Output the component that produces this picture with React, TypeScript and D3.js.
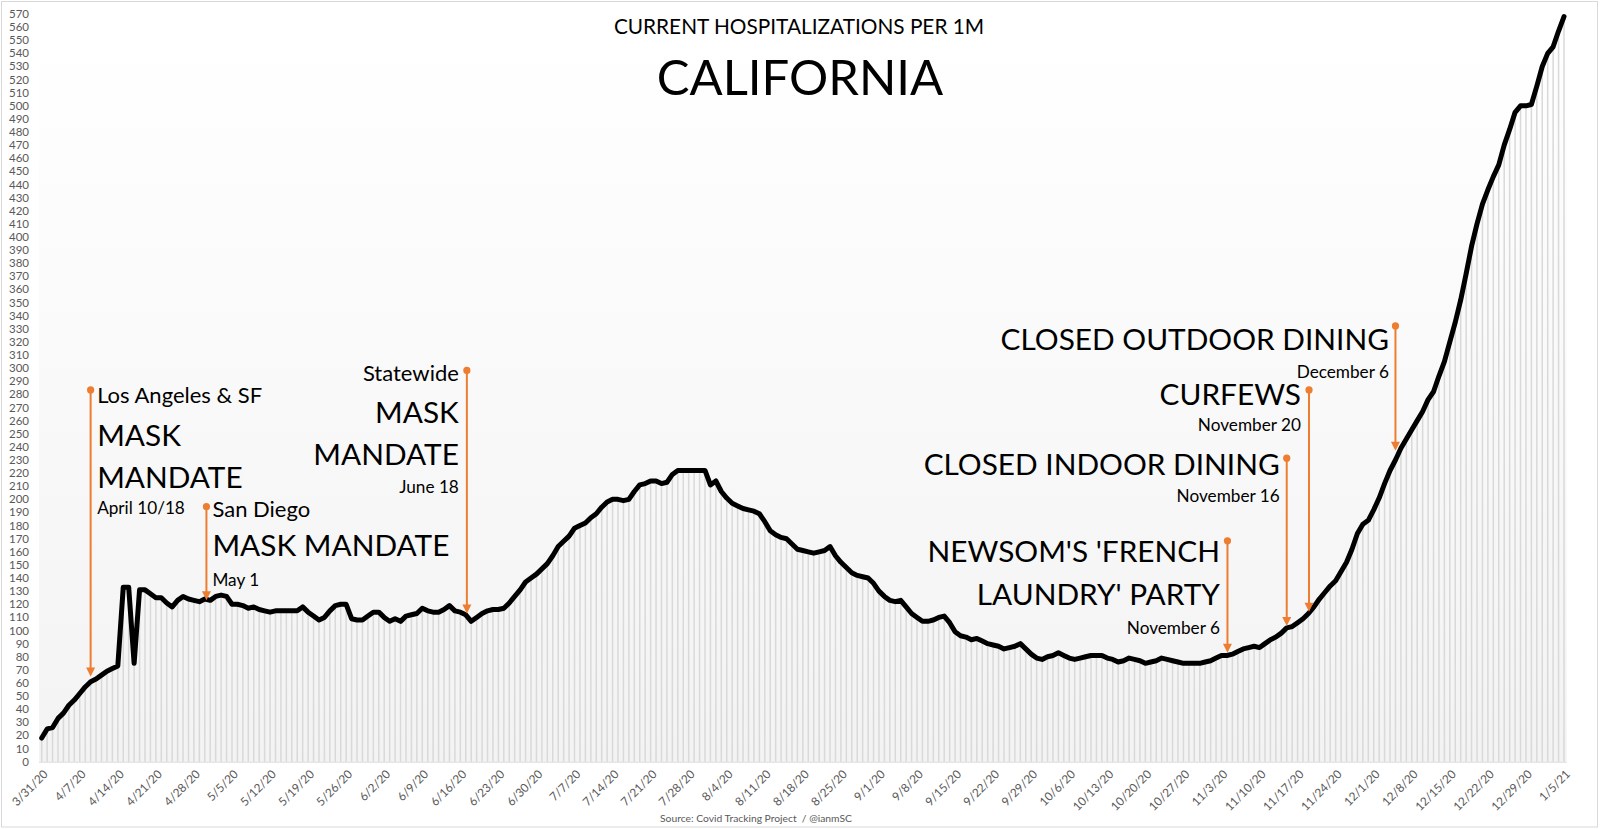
import React from 'react';
import * as d3 from 'd3';

// Daily current hospitalizations per 1M, California, 3/31/20 .. 1/5/21
const values: number[] = [
  18, 25, 26, 33, 37, 43, 47, 52, 57, 61,
  63, 66, 69, 71, 73, 133, 133, 75, 131, 131,
  128, 125, 125, 121, 118, 123, 126, 124, 123, 122,
  124, 123, 126, 127, 126, 120, 120, 119, 117, 118,
  116, 115, 114, 115, 115, 115, 115, 115, 118, 114,
  111, 108, 110, 115, 119, 120, 120, 109, 108, 108,
  111, 114, 114, 110, 107, 109, 107, 111, 112, 113,
  117, 115, 114, 114, 116, 119, 115, 114, 112, 107,
  110, 113, 115, 116, 116, 117, 121, 126, 131, 137,
  140, 143, 147, 151, 157, 164, 168, 172, 178, 180,
  182, 186, 189, 194, 198, 200, 200, 199, 200, 206,
  211, 212, 214, 214, 212, 213, 219, 222, 222, 222,
  222, 222, 222, 211, 214, 206, 201, 197, 195, 193,
  192, 191, 189, 183, 176, 173, 171, 170, 166, 162,
  161, 160, 159, 160, 161, 164, 157, 152, 148, 144,
  142, 141, 140, 136, 130, 126, 123, 122, 123, 118,
  113, 110, 107, 107, 108, 110, 111, 106, 99, 96,
  95, 93, 94, 92, 90, 89, 88, 86, 87, 88,
  90, 86, 82, 79, 78, 80, 81, 83, 81, 79,
  78, 79, 80, 81, 81, 81, 79, 78, 76, 77,
  79, 78, 77, 75, 76, 77, 79, 78, 77, 76,
  75, 75, 75, 75, 76, 77, 79, 81, 81, 82,
  84, 86, 87, 88, 87, 90, 93, 95, 98, 102,
  103, 106, 109, 113, 118, 124, 129, 134, 138, 145,
  152, 162, 174, 181, 184, 192, 201, 212, 222, 230,
  239, 246, 253, 260, 267, 276, 282, 294, 305, 320,
  335, 352, 372, 393, 410, 425, 436, 446, 455, 470,
  482, 495, 500, 500, 501, 515, 530, 540, 545, 557,
  568,
];

const tickLabels: string[] = [
  '3/31/20', '4/7/20', '4/14/20', '4/21/20', '4/28/20', '5/5/20', '5/12/20', '5/19/20',
  '5/26/20', '6/2/20', '6/9/20', '6/16/20', '6/23/20', '6/30/20', '7/7/20', '7/14/20',
  '7/21/20', '7/28/20', '8/4/20', '8/11/20', '8/18/20', '8/25/20', '9/1/20', '9/8/20',
  '9/15/20', '9/22/20', '9/29/20', '10/6/20', '10/13/20', '10/20/20', '10/27/20', '11/3/20',
  '11/10/20', '11/17/20', '11/24/20', '12/1/20', '12/8/20', '12/15/20', '12/22/20', '12/29/20',
  '1/5/21',
];

const yTicks: number[] = d3.range(0, 571, 10);

// Annotation arrows: day index, arrow top value, arrow tip value
const annDays: number[] = [9.0, 30.3, 78.2, 218.1, 229.0, 233.1, 249.0];
const annTop: number[] = [283.4, 194.4, 298.3, 168.4, 231.4, 283.4, 332.2];
const annTip: number[] = [65, 123, 113, 83, 103.5, 114.4, 237];

type Line = { t: string; k: 'big' | 'mid' | 'small'; y: number };
const annText: { anchor: 'start' | 'end'; dx: number; lines: Line[] }[] = [
  { anchor: 'start', dx: 6.5, lines: [
    { t: 'Los Angeles & SF', k: 'mid', y: 403 },
    { t: 'MASK', k: 'big', y: 446 },
    { t: 'MANDATE', k: 'big', y: 487.5 },
    { t: 'April 10/18', k: 'small', y: 514 },
  ] },
  { anchor: 'start', dx: 6, lines: [
    { t: 'San Diego', k: 'mid', y: 517 },
    { t: 'MASK MANDATE', k: 'big', y: 556 },
    { t: 'May 1', k: 'small', y: 586 },
  ] },
  { anchor: 'end', dx: -8, lines: [
    { t: 'Statewide', k: 'mid', y: 381 },
    { t: 'MASK', k: 'big', y: 423 },
    { t: 'MANDATE', k: 'big', y: 465 },
    { t: 'June 18', k: 'small', y: 492.5 },
  ] },
  { anchor: 'end', dx: -7.5, lines: [
    { t: "NEWSOM'S 'FRENCH", k: 'big', y: 562 },
    { t: "LAUNDRY' PARTY", k: 'big', y: 605 },
    { t: 'November 6', k: 'small', y: 634 },
  ] },
  { anchor: 'end', dx: -7, lines: [
    { t: 'CLOSED INDOOR DINING', k: 'big', y: 474.5 },
    { t: 'November 16', k: 'small', y: 502 },
  ] },
  { anchor: 'end', dx: -8, lines: [
    { t: 'CURFEWS', k: 'big', y: 405 },
    { t: 'November 20', k: 'small', y: 431 },
  ] },
  { anchor: 'end', dx: -6.5, lines: [
    { t: 'CLOSED OUTDOOR DINING', k: 'big', y: 349.5 },
    { t: 'December 6', k: 'small', y: 377.5 },
  ] },
];

const W = 1600;
const H = 829;
const FONT = 'Lato, "Open Sans", sans-serif';
const ORANGE = '#ED7D31';
const sizes = { big: 29.8, mid: 22, small: 17.2 };

export default function App() {
  const x = d3.scaleLinear().domain([0, values.length - 1]).range([41.7, 1564]);
  const y = d3.scaleLinear().domain([0, 570]).range([761.7, 14]);
  const step = x(1) - x(0);
  const line = d3.line<number>().x((_, i) => x(i)).y((d) => y(d));

  return (
    <svg width={W} height={H} style={{ position: 'absolute', left: 0, top: 0, background: '#fff' }}
      fontFamily={FONT}>
      <defs>
        <linearGradient id="plotbg" x1="0" y1="0" x2="0" y2="1">
          <stop offset="0" stopColor="#ffffff" />
          <stop offset="1" stopColor="#f3f3f3" />
        </linearGradient>
      </defs>
      <rect x={1.5} y={1.5} width={1596} height={825.5} fill="#fff" stroke="#d9d9d9" strokeWidth={1} />
      <rect x={x(0) - step / 2} y={y(570)} width={x(values.length - 1) - x(0) + step} height={y(0) - y(570)}
        fill="url(#plotbg)" />
      {values.map((v, i) => (
        <rect key={i} x={x(i) - 0.75} y={y(v)} width={1.5} height={y(0) - y(v)} fill="#d9d9d9" />
      ))}
      <line x1={x(0) - step / 2} x2={x(values.length - 1) + step / 2} y1={y(0) + 0.5} y2={y(0) + 0.5}
        stroke="#d9d9d9" strokeWidth={1} />
      {yTicks.map((t) => (
        <text key={t} x={29} y={y(t)} dy="0.35em" textAnchor="end" fontSize={11.5} fill="#595959">{t}</text>
      ))}
      {tickLabels.map((lab, k) => (
        <text key={lab} transform={`translate(${x(k * 7) + 4},${772}) rotate(-45)`} textAnchor="end"
          dy="0.35em" fontSize={11.8} fill="#595959">{lab}</text>
      ))}
      <path d={line(values) || ''} fill="none" stroke="#000" strokeWidth={5} strokeLinejoin="round"
        strokeLinecap="round" />
      {annDays.map((d, k) => {
        const ax = x(d);
        const top = y(annTop[k]);
        const tip = y(annTip[k]);
        return (
          <g key={k}>
            <line x1={ax} x2={ax} y1={top} y2={tip - 7} stroke={ORANGE} strokeWidth={2} />
            <circle cx={ax} cy={top} r={3.6} fill={ORANGE} />
            <path d={`M${ax - 4.5},${tip - 9} L${ax + 4.5},${tip - 9} L${ax},${tip} Z`} fill={ORANGE} />
          </g>
        );
      })}
      {annText.map((a, k) => (
        <g key={k}>
          {a.lines.map((l, j) => (
            <text key={j} x={x(annDays[k]) + a.dx} y={l.y} textAnchor={a.anchor} fontSize={sizes[l.k]}
              fill="#000">{l.t}</text>
          ))}
        </g>
      ))}
      <text x={799} y={34} textAnchor="middle" fontSize={20.8} fill="#000">CURRENT HOSPITALIZATIONS PER 1M</text>
      <text x={800} y={95} textAnchor="middle" fontSize={49} fill="#000">CALIFORNIA</text>
      <text x={756} y={822} textAnchor="middle" fontSize={10.3} fill="#595959">{'Source: Covid Tracking Project \u00a0/ @ianmSC'}</text>
    </svg>
  );
}
